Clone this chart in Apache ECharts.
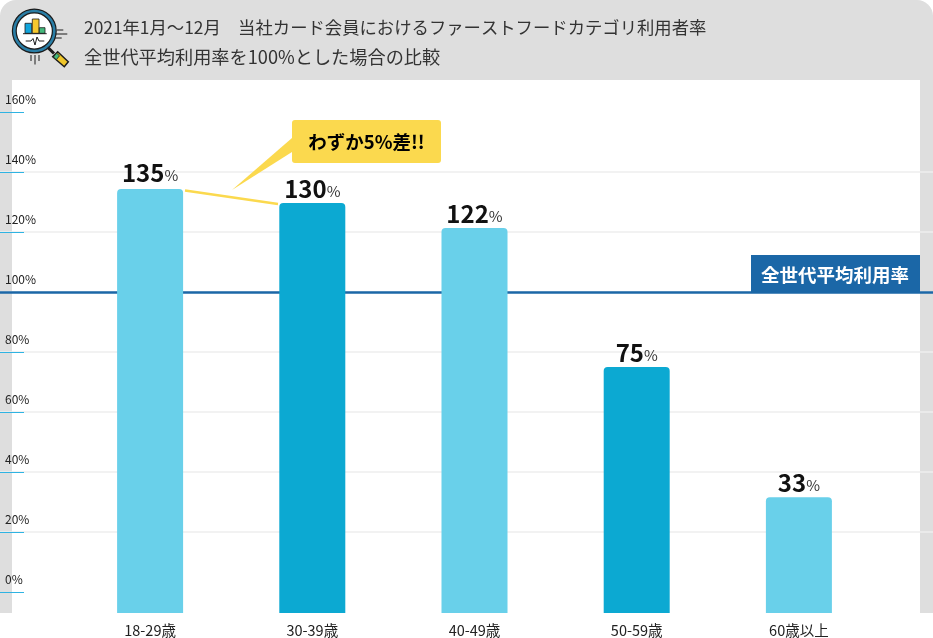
<!DOCTYPE html>
<html><head><meta charset="utf-8">
<style>html,body{margin:0;padding:0;background:#fff}#c{width:933px;height:638px}</style>
<script src="https://cdn.jsdelivr.net/npm/echarts@6/dist/echarts.min.js"></script>
</head><body><div id="c"></div>
<script>
const categories = ['18-29歳','30-39歳','40-49歳','50-59歳','60歳以上'];
const barValues = [134.3,129.7,121.3,75,31.6];
const barsBelowZero = [-7,-7,-7,-7,-7];
const labelValues = [135,130,122,75,33];
const barColors = ['#69d0ea','#0ca9d2','#69d0ea','#0ca9d2','#69d0ea'];
const axisTicks = [0,20,40,60,80,100,120,140,160];
const averageLine = 100;
const titleLines = ['2021年1月～12月　当社カード会員におけるファーストフードカテゴリ利用者率','全世代平均利用率を100%とした場合の比較'];
const FONT = '"Noto Sans CJK JP"';
const yMin = -7, yMax = 512/3;
const chart = echarts.init(document.getElementById('c'), null, {renderer:'canvas'});
const dark = '#1c1c1c';
const icon = [
 {type:'circle',shape:{cx:34.3,cy:31,r:20},style:{fill:'#fff',stroke:dark,lineWidth:5}},
 {type:'circle',shape:{cx:34.3,cy:31,r:20},style:{fill:'none',stroke:'#2a7ea6',lineWidth:2.6}},
 {type:'rect',shape:{x:25,y:23.3,width:6.7,height:10},style:{fill:'#12a5dc',stroke:dark,lineWidth:.8}},
 {type:'rect',shape:{x:32.3,y:19,width:6.7,height:14.3},style:{fill:'#f6c92f',stroke:dark,lineWidth:.8}},
 {type:'rect',shape:{x:39.3,y:27.7,width:5.7,height:5.6},style:{fill:'#45b97c',stroke:dark,lineWidth:.8}},
 {type:'line',shape:{x1:23,y1:33.7,x2:46.7,y2:33.7},style:{stroke:dark,lineWidth:1}},
 {type:'polyline',shape:{points:[[25.7,41],[31,41],[33,38.5],[35,45],[37,37],[39,41],[44.3,41]]},style:{fill:'none',stroke:dark,lineWidth:1}},
 {type:'line',shape:{x1:48,y1:47.7,x2:54,y2:53.5},style:{stroke:dark,lineWidth:3}},
 {type:'polygon',shape:{points:[[57.7,51.7],[68.3,61.7],[64.3,66.7],[52.7,56.7]]},style:{fill:'#efc62b',stroke:dark,lineWidth:1.5}},
 {type:'polygon',shape:{points:[[56.5,53],[59.5,55.8],[56.3,59.7],[53.5,57]]},style:{fill:'#45b97c',stroke:dark,lineWidth:.8}},
 {type:'line',shape:{x1:56.7,y1:30,x2:63.3,y2:30},style:{stroke:dark,lineWidth:1}},
 {type:'line',shape:{x1:55.7,y1:34,x2:67.3,y2:34},style:{stroke:dark,lineWidth:1}},
 {type:'line',shape:{x1:55,y1:38,x2:61.7,y2:38},style:{stroke:dark,lineWidth:1}},
 {type:'line',shape:{x1:31,y1:55,x2:31,y2:61},style:{stroke:dark,lineWidth:1}},
 {type:'line',shape:{x1:35,y1:55,x2:35,y2:64.5},style:{stroke:dark,lineWidth:1}},
 {type:'line',shape:{x1:39,y1:55,x2:39,y2:61},style:{stroke:dark,lineWidth:1}}
];
chart.setOption({
 animation:false,
 textStyle:{fontFamily:FONT},
 grid:[
  {left:0,right:0,top:80,bottom:25},
  {left:69,width:811,top:80,bottom:25}
 ],
 xAxis:[
  {gridIndex:0,type:'value',min:0,max:1,show:false},
  {gridIndex:1,type:'category',data:categories,axisLine:{show:false},axisTick:{show:false},
   axisLabel:{color:'#222',fontSize:14.5,margin:10,fontFamily:FONT}}
 ],
 yAxis:[
  {gridIndex:0,type:'value',min:yMin,max:yMax,minInterval:20,maxInterval:20,axisLine:{show:false},
   axisTick:{show:true,inside:true,length:24,customValues:axisTicks,lineStyle:{color:'#2fb3e2',width:1}},
   axisLabel:{inside:true,margin:5,color:'#222',fontSize:12,verticalAlign:'bottom',padding:[0,0,6.5,0],
     customValues:axisTicks,formatter:'{value}%',fontFamily:FONT},
   splitLine:{show:true,showMinLine:false,showMaxLine:false,lineStyle:{color:'#eeeeee',width:1.5}}},
  {gridIndex:1,type:'value',min:yMin,max:yMax,show:false,splitLine:{show:false}}
 ],
 series:[
  {type:'bar',xAxisIndex:1,yAxisIndex:1,barWidth:66,stack:'age',
   data:barValues.map((v,i)=>({value:v,itemStyle:{color:barColors[i],borderRadius:[4,4,0,0]},
     label:{formatter:'{a|'+labelValues[i]+'}{b|%}',distance:i===0?4:2}})),
   label:{show:true,position:'top',rich:{
     a:{fontSize:24,fontWeight:'bold',color:'#111',fontFamily:FONT},
     b:{fontSize:15,color:'#333',fontFamily:FONT,padding:[4,0,0,0]}}},
   z:5},
  {type:'bar',xAxisIndex:1,yAxisIndex:1,barWidth:66,stack:'age',silent:true,
   data:barsBelowZero.map((v,i)=>({value:v,itemStyle:{color:barColors[i]}})),z:5},
  {type:'line',xAxisIndex:0,yAxisIndex:0,data:[],silent:true,z:2,
   markLine:{silent:true,symbol:'none',animation:false,label:{show:false},
    lineStyle:{color:'#1b67a7',width:2.5,type:'solid'},data:[{yAxis:averageLine}]}}
 ],
 graphic:[
  {type:'rect',z:-10,silent:true,shape:{x:0,y:0,width:933,height:613,r:[16,16,0,0]},style:{fill:'#dedede'}},
  {type:'rect',z:-9,silent:true,shape:{x:12,y:80,width:908,height:533},style:{fill:'#fff'}},
  {type:'group',z:1,silent:true,children:icon},
  {type:'text',z:5,x:84,y:27,style:{text:titleLines[0],font:'17.35px '+FONT,fill:'#333',textVerticalAlign:'middle'}},
  {type:'text',z:5,x:84,y:57,style:{text:titleLines[1],font:'18.2px '+FONT,fill:'#333',textVerticalAlign:'middle'}},
  {type:'rect',z:5,shape:{x:751,y:255,width:169,height:37.5},style:{fill:'#1b67a7'}},
  {type:'text',z:6,x:835,y:274.5,style:{text:'全世代平均利用率',font:'bold 18.5px '+FONT,fill:'#fff',textAlign:'center',textVerticalAlign:'middle'}},
  {type:'polygon',z:5,shape:{points:[[292,138],[292,152],[232,190]]},style:{fill:'#fbd94e'}},
  {type:'rect',z:5,shape:{x:292,y:120,width:149,height:43,r:3},style:{fill:'#fbd94e'}},
  {type:'text',z:6,x:366.5,y:142,style:{text:'わずか5%差!!',font:'bold 18.5px '+FONT,fill:'#000',textAlign:'center',textVerticalAlign:'middle'}},
  {type:'line',z:5,shape:{x1:185,y1:190.5,x2:278,y2:204},style:{stroke:'#fbd94e',lineWidth:2.5}}
 ]
});
</script></body></html>
